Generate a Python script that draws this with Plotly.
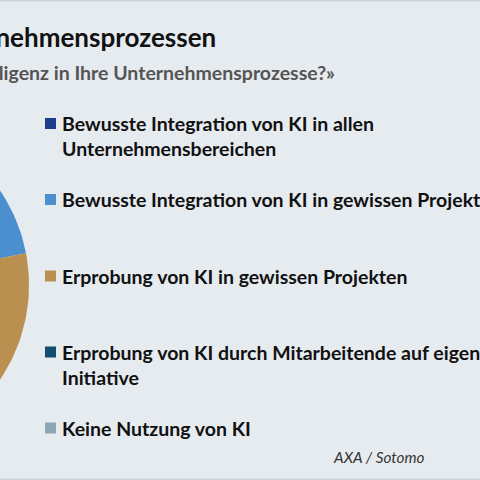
import math
import plotly.graph_objects as go

# ---- data ----
categories = [
    "Bewusste Integration von KI in allen<br>Unternehmensbereichen",
    "Bewusste Integration von KI in gewissen Projekten",
    "Erprobung von KI in gewissen Projekten",
    "Erprobung von KI durch Mitarbeitende auf eigene<br>Initiative",
    "Keine Nutzung von KI",
]
values = [4, 18, 25, 18, 35]
colors = ["#1c3e8c", "#4b8fcf", "#b99050", "#114d6f", "#8ca6b8"]

title_text = "Künstliche Intelligenz in Unternehmensprozessen"
subtitle_text = "«Wie integrieren Sie künstliche Intelligenz in Ihre Unternehmensprozesse?»"
source_text = "AXA / Sotomo"

# ---- layout constants (pixel-like coordinate system) ----
W = H = 480
BG = "#e6ebf0"
CX, CY, R = -140, 285, 169          # pie centre / radius (centre lies left of the view)
LEG_X_SQ, LEG_X_TXT = 50.5, 60
LEG_Y = [123.5, 199.5, 276, 352, 428]
LEG_SIZE = 19.5
FONT = "Lato"

fig = go.Figure()

total = sum(values)
start = 0.0
for cat, v, col in zip(categories, values, colors):
    a0 = start / total * 2 * math.pi
    a1 = (start + v) / total * 2 * math.pi
    n = max(8, int(200 * v / total))
    xs, ys = [CX], [CY]
    for k in range(n + 1):
        a = a0 + (a1 - a0) * k / n
        xs.append(CX + R * math.sin(a))
        ys.append(CY - R * math.cos(a))
    xs.append(CX)
    ys.append(CY)
    fig.add_trace(go.Scatter(x=xs, y=ys, mode="lines", fill="toself",
                             fillcolor=col, line=dict(width=0, color=col),
                             hoverinfo="text", text=f"{cat.replace('<br>', ' ')}: {v}%",
                             showlegend=False))
    start += v

# legend squares
fig.add_trace(go.Scatter(x=[LEG_X_SQ] * len(categories), y=LEG_Y, mode="markers",
                         marker=dict(symbol="square", size=11, color=colors),
                         hoverinfo="skip", showlegend=False))

annotations = []
for cat, y in zip(categories, LEG_Y):
    two = "<br>" in cat
    annotations.append(dict(x=LEG_X_TXT, y=(y + 12.5) if two else y,
                            xref="x", yref="y", text=f"<b>{cat}</b>", showarrow=False,
                            xanchor="left", yanchor="middle", align="left",
                            font=dict(family=FONT, size=LEG_SIZE, color="#111111")))
annotations.append(dict(x=218, y=37, xref="x", yref="y", text=f"<b>{title_text}</b>",
                        showarrow=False, xanchor="right", yanchor="middle",
                        font=dict(family=FONT, size=26, color="#111111")))
annotations.append(dict(x=337, y=72, xref="x", yref="y", text=f"<b>{subtitle_text}</b>",
                        showarrow=False, xanchor="right", yanchor="middle",
                        font=dict(family=FONT, size=19.5, color="#555555")))
annotations.append(dict(x=426, y=457, xref="x", yref="y", text=f"<i>{source_text}</i>",
                        showarrow=False, xanchor="right", yanchor="middle",
                        font=dict(family=FONT, size=15.3, color="#333333")))

fig.update_layout(
    width=W, height=H,
    margin=dict(l=0, r=0, t=0, b=0),
    paper_bgcolor=BG, plot_bgcolor=BG,
    xaxis=dict(range=[0, W], visible=False, fixedrange=True),
    yaxis=dict(range=[H, 0], visible=False, fixedrange=True),
    annotations=annotations,
    shapes=[dict(type="line", xref="paper", yref="paper", x0=0, x1=1, y0=1, y1=1,
                 line=dict(color="#cfd6de", width=3)),
            dict(type="line", xref="paper", yref="paper", x0=0, x1=1, y0=0, y1=0,
                 line=dict(color="#cfd6de", width=3))],
)

fig.write_html("out.html", config={"displayModeBar": False},
               post_script="document.body.style.margin='0';document.body.style.overflow='hidden';")
